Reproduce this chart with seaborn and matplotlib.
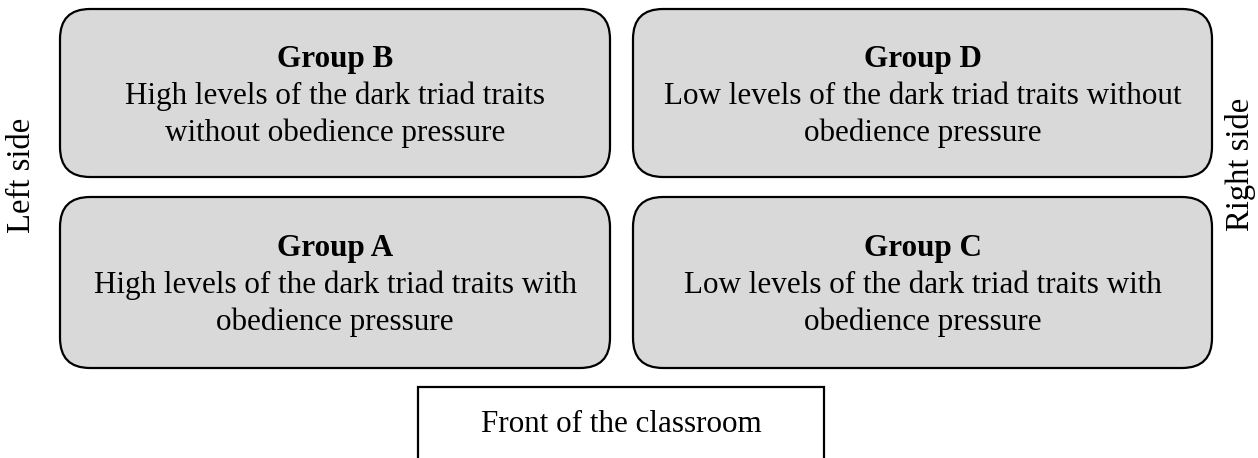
import seaborn as sns
import matplotlib.pyplot as plt
from matplotlib.patches import FancyBboxPatch, Rectangle

# Inhalt des Diagramms
groups = ["Group B", "Group D", "Group A", "Group C"]
descriptions = [
    ["High levels of the dark triad traits", "without obedience pressure"],
    ["Low levels of the dark triad traits without", "obedience pressure"],
    ["High levels of the dark triad traits with", "obedience pressure"],
    ["Low levels of the dark triad traits with", "obedience pressure"],
]
side_labels = ["Left side", "Right side"]
front_label = "Front of the classroom"

sns.set_theme(style="white")
plt.rcParams["font.family"] = ["Liberation Serif", "DejaVu Serif"]
plt.rcParams["text.color"] = "black"

W, H = 1258, 458
fig = plt.figure(figsize=(W / 100, H / 100), dpi=100)
ax = fig.add_axes([0, 0, 1, 1])
ax.set_xlim(0, W)
ax.set_ylim(H, 0)
ax.axis("off")

# Raster 2x2: Spalten und Zeilen (in Pixel)
cols = [(60, 610), (633, 1212)]
rows = [(9, 177), (197, 368)]
fs = 22.4
step = 37

for i, (name, desc) in enumerate(zip(groups, descriptions)):
    x0, x1 = cols[i % 2]
    y0, y1 = rows[i // 2]
    box = FancyBboxPatch(
        (x0, y0), x1 - x0, y1 - y0,
        boxstyle="round,pad=0,rounding_size=30",
        facecolor="#d9d9d9", edgecolor="black", linewidth=1.6,
    )
    ax.add_patch(box)
    cx, cy = (x0 + x1) / 2, (y0 + y1) / 2 + 3
    lines = [name] + desc
    for k, line in enumerate(lines):
        ax.text(
            cx, cy + (k - 1) * step, line,
            ha="center", va="center", fontsize=fs, color="black",
            fontweight="bold" if k == 0 else "normal",
        )

# Seitenbeschriftungen
ax.text(22, 175, side_labels[0], rotation=90, ha="center", va="center",
        fontsize=23.5, color="black")
ax.text(1240, 164, side_labels[1], rotation=90, ha="center", va="center",
        fontsize=23.5, color="black")

# Vorderseite des Klassenzimmers
ax.add_patch(Rectangle((418, 387), 406, 100, facecolor="white",
                       edgecolor="black", linewidth=1.6))
ax.text(621, 424, front_label, ha="center", va="center", fontsize=fs,
        color="black")

fig.savefig("out.png", dpi=100)
